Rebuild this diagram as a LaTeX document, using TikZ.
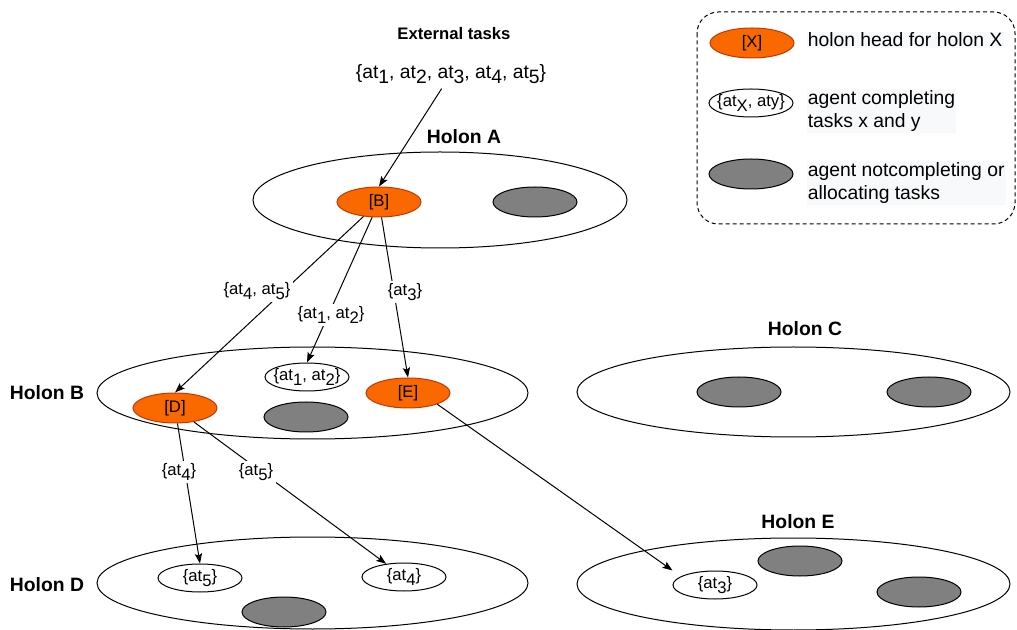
\documentclass[tikz,border=0pt]{standalone}
\usepackage{fontspec}
\setmainfont{Liberation Sans}
\usetikzlibrary{shapes.geometric,arrows.meta}
\definecolor{headfill}{HTML}{FA6800}
\definecolor{headline}{HTML}{C73500}
\definecolor{idlefill}{HTML}{808080}
\definecolor{notefill}{HTML}{F8F9FA}
% lowered task index, as in at_1
\newcommand{\lowidx}[1]{\raisebox{-0.5ex}{#1}}
\newcommand{\smallsz}{\fontsize{12.5}{15}\selectfont}
\newcommand{\largesz}{\fontsize{14.5}{17.25}\selectfont}
\begin{document}
\begin{tikzpicture}[x=0.75pt,y=-0.75pt, line width=0.75pt,
  holon/.style={ellipse, draw, inner sep=0pt},
  agent/.style={ellipse, draw, inner sep=0pt, minimum width=63pt, minimum height=22.5pt, font=\smallsz},
  head/.style={agent, fill=headfill, draw=headline},
  idle/.style={agent, fill=idlefill},
  task/.style={agent, fill=white, minimum height=21pt},
  tasklbl/.style={fill=white, inner sep=2pt, font=\smallsz},
  title/.style={font=\largesz\bfseries},
  flow/.style={-{Stealth[length=7.5pt,width=5.5pt,inset=1.5pt]}},
  keytext/.style={anchor=west, align=left, font=\largesz, fill=notefill, inner sep=1pt}]

\useasboundingbox (0,0) rectangle (1017,630);

% holons
\node[holon, minimum width=280.5pt, minimum height=72pt] (hA) at (440,200) {};
\node[holon, minimum width=323.25pt, minimum height=69pt] (hB) at (312.5,393) {};
\node[holon, minimum width=324.75pt, minimum height=67.5pt] (hC) at (793.5,392) {};
\node[holon, minimum width=323.25pt, minimum height=69pt] (hD) at (312.5,583) {};
\node[holon, minimum width=324.75pt, minimum height=69pt] (hE) at (793.5,584) {};

% holon titles
\node[title] (tA) at (464,137) {Holon A};
\node[title] (tB) at (47,393) {Holon B};
\node[title] (tC) at (805,329) {Holon C};
\node[title] (tD) at (47,585) {Holon D};
\node[title] (tE) at (798,522) {Holon E};

% external tasks
\node[font=\smallsz\bfseries] (extT) at (454,34) {External tasks};
\node[font=\largesz] (ext) at (451,74) {\{at\lowidx{1}, at\lowidx{2}, at\lowidx{3}, at\lowidx{4}, at\lowidx{5}\}};

% agents
\node[head] (B) at (379,202) {[B]};
\node[idle] (gA) at (535,202) {};
\node[head] (D) at (175,408) {[D]};
\node[task] (t12) at (307,377) {\makebox[0pt]{\{at\lowidx{1}, at\lowidx{2}\}}};
\node[idle] (gB) at (306,417) {};
\node[head] (E) at (408,393) {[E]};
\node[idle] (gC1) at (739,392) {};
\node[idle] (gC2) at (929,392) {};
\node[task] (t5) at (200,578) {\makebox[0pt]{\{at\lowidx{5}\}}};
\node[task] (t4) at (404,577) {\makebox[0pt]{\{at\lowidx{4}\}}};
\node[idle] (gD) at (284,612) {};
\node[task] (t3) at (715,585) {\makebox[0pt]{\{at\lowidx{3}\}}};
\node[idle] (gE1) at (800,561) {};
\node[idle] (gE2) at (919,592) {};

% task allocation
\draw[flow] (ext) -- (B.north);
\draw[flow] (B) -- (D.north);
\draw[flow] (B) -- (t12.north);
\draw[flow] (B) -- (E.north);
\draw[flow] (D) -- (t5.north);
\draw[flow] (D) -- (t4);
\draw[flow] (E.-21) -- (t3.west |- t3.north);

% edge labels
\node[tasklbl] (l45) at (257,291) {\{at\lowidx{4}, at\lowidx{5}\}};
\node[tasklbl] (l12) at (331,315) {\{at\lowidx{1}, at\lowidx{2}\}};
\node[tasklbl] (l3) at (405,292) {\{at\lowidx{3}\}};
\node[tasklbl] (l4) at (179,472) {\{at\lowidx{4}\}};
\node[tasklbl] (l5) at (256,472) {\{at\lowidx{5}\}};

% key
\draw[dash pattern=on 3pt off 2.25pt, rounded corners=16pt] (697,12) rectangle (1015,224);
\node[head] (kHead) at (752,43) {[X]};
\node[task] (kTask) at (751,103) {\makebox[0pt]{\{at\lowidx{X}, aty\}}};
\node[idle] (kIdle) at (751,174) {};
\node[keytext] (kHeadT) at (806,40) {holon head for holon X};
\node[keytext] (kTaskT) at (806,111) {agent completing\\tasks x and y};
\node[keytext] (kIdleT) at (806,183) {agent notcompleting or\\allocating tasks};
\end{tikzpicture}
\end{document}
